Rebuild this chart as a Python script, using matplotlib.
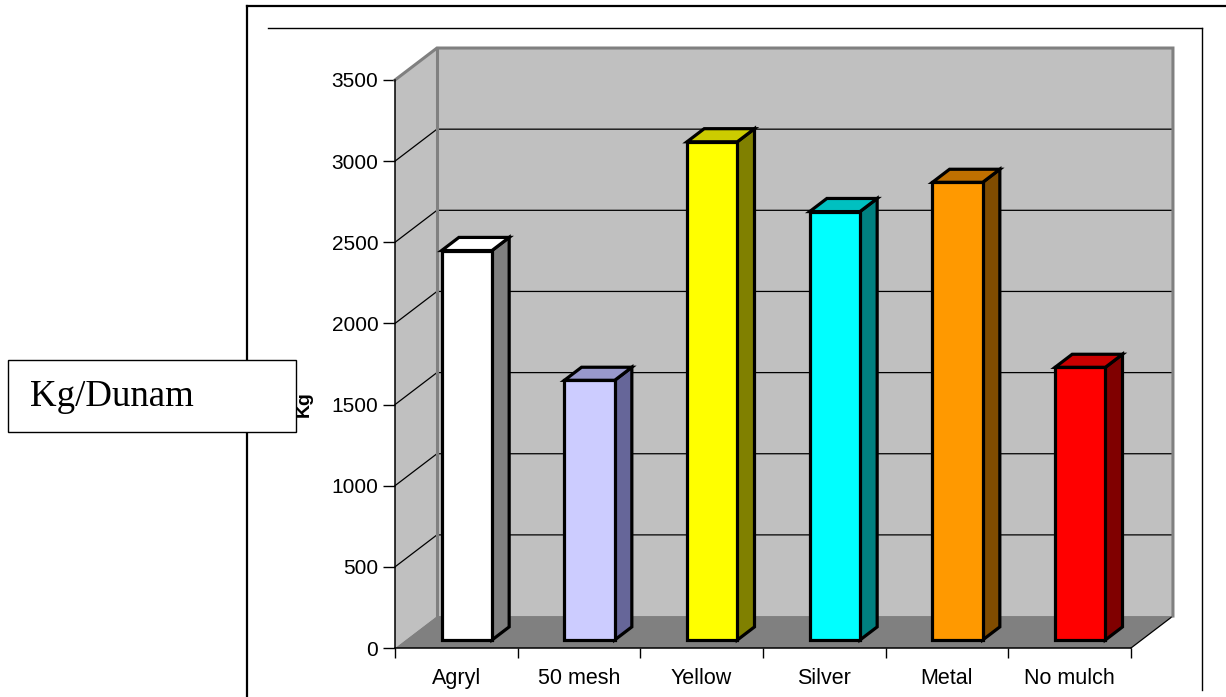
import matplotlib
matplotlib.use("Agg")
import matplotlib.pyplot as plt
from matplotlib.patches import Polygon, Rectangle
from matplotlib.lines import Line2D

plt.rcParams['font.family'] = ['Liberation Sans', 'DejaVu Sans']

# yield per treatment (Kg)
categories = ['Agryl', '50 mesh', 'Yellow', 'Silver', 'Metal', 'No mulch']
yields = [2400, 1600, 3070, 2640, 2820, 1680]
yticks = [0, 500, 1000, 1500, 2000, 2500, 3000, 3500]

front_colors = ['#ffffff', '#ccccff', '#ffff00', '#00ffff', '#ff9900', '#ff0000']
side_colors = ['#808080', '#666699', '#808000', '#008080', '#804c00', '#800000']
top_colors = ['#ffffff', '#9999cc', '#cccc00', '#00c0c0', '#c07000', '#cc0000']

W, H = 1226, 697
DX, DY = 0.342, 197      # offset from front plane to back wall (axis units)
D0, D1 = 0.25, 0.66      # bar depth span as fraction of the floor depth
BW = 0.41                # bar width


def proj(x, v, d):
    return (x + d * DX, v + d * DY)


fig = plt.figure(figsize=(W / 100, H / 100), dpi=100)
ax = fig.add_axes([395 / W, 49 / H, 736 / W, 568 / H])
n = len(categories)
vmax = yticks[-1]
ax.set_xlim(0, n)
ax.set_ylim(0, vmax)
ax.patch.set_visible(False)

# walls and floor
side_wall = [proj(0, 0, 0), proj(0, vmax, 0), proj(0, vmax, 1), proj(0, 0, 1)]
back_wall = [proj(0, 0, 1), proj(0, vmax, 1), proj(n, vmax, 1), proj(n, 0, 1)]
floor = [proj(0, 0, 0), proj(n, 0, 0), proj(n, 0, 1), proj(0, 0, 1)]
ax.add_patch(Polygon(side_wall, closed=True, fc='#c0c0c0', ec='none', clip_on=False, zorder=1))
ax.add_patch(Polygon(back_wall, closed=True, fc='#c0c0c0', ec='none', clip_on=False, zorder=1))

for t in yticks[1:-1]:
    ax.plot([0, DX, n + DX], [t, t + DY, t + DY], color='black', lw=0.9,
            clip_on=False, zorder=1.5)

ax.add_patch(Polygon(floor, closed=True, fc='#808080', ec='none', clip_on=False, zorder=1.6))
ax.plot([n, n + DX], [0, DY], color='black', lw=0.9, clip_on=False, zorder=1.7)

# grey wall edges
ax.plot([0, DX, n + DX, n + DX], [vmax, vmax + DY, vmax + DY, DY],
        color='#808080', lw=2.2, clip_on=False, zorder=1.8, solid_joinstyle='miter')
ax.plot([DX, DX], [DY, vmax + DY], color='#808080', lw=2.2, clip_on=False, zorder=1.8)

# bars
for i, v in enumerate(yields):
    x0 = i + 0.5 - BW / 2
    x1 = i + 0.5 + BW / 2
    front = [proj(x0, 0, D0), proj(x0, v, D0), proj(x1, v, D0), proj(x1, 0, D0)]
    side = [proj(x1, 0, D0), proj(x1, v, D0), proj(x1, v, D1), proj(x1, 0, D1)]
    top = [proj(x0, v, D0), proj(x0, v, D1), proj(x1, v, D1), proj(x1, v, D0)]
    for pts, c in ((side, side_colors[i]), (top, top_colors[i]), (front, front_colors[i])):
        ax.add_patch(Polygon(pts, closed=True, fc=c, ec='black', lw=2.3,
                             joinstyle='miter', clip_on=False, zorder=3))

# axes
for s in ('top', 'right'):
    ax.spines[s].set_visible(False)
for s in ('left', 'bottom'):
    ax.spines[s].set_linewidth(1.1)
    ax.spines[s].set_zorder(2)

ax.set_yticks(yticks)
ax.tick_params(axis='y', direction='out', length=8.5, width=1, pad=3.5, labelsize=15)
ax.set_xticks(range(n + 1))
ax.set_xticklabels([])
ax.set_xticks([i + 0.5 for i in range(n)], minor=True)
ax.set_xticklabels(categories, minor=True)
ax.tick_params(axis='x', which='major', direction='out', length=7.5, width=1)
ax.tick_params(axis='x', which='minor', length=0, pad=14.5, labelsize=15.5)

fig.text(304 / W, 1 - 404 / H, 'Kg', rotation=90, fontweight='bold', fontsize=14,
         ha='center', va='center')

# unit box
fig.add_artist(Rectangle((8 / W, 1 - 432 / H), 288 / W, 72 / H, transform=fig.transFigure,
                         fc='white', ec='black', lw=1, zorder=5))
fig.text(30 / W, 1 - 406 / H, 'Kg/Dunam', family='Liberation Serif', fontsize=26.6,
         ha='left', va='baseline', zorder=6)

# page frame
fig.add_artist(Line2D([247 / W, 1], [1 - 6 / H, 1 - 6 / H], color='black', lw=1.6))
fig.add_artist(Line2D([247 / W, 247 / W], [1 - 6 / H, 0], color='black', lw=1.6))
fig.add_artist(Line2D([268 / W, 1202 / W], [1 - 28 / H, 1 - 28 / H], color='black', lw=1))
fig.add_artist(Line2D([1202 / W, 1202 / W], [1 - 28 / H, 1 - 690 / H], color='black', lw=1))

fig.savefig('out.png', dpi=100, facecolor='white')
